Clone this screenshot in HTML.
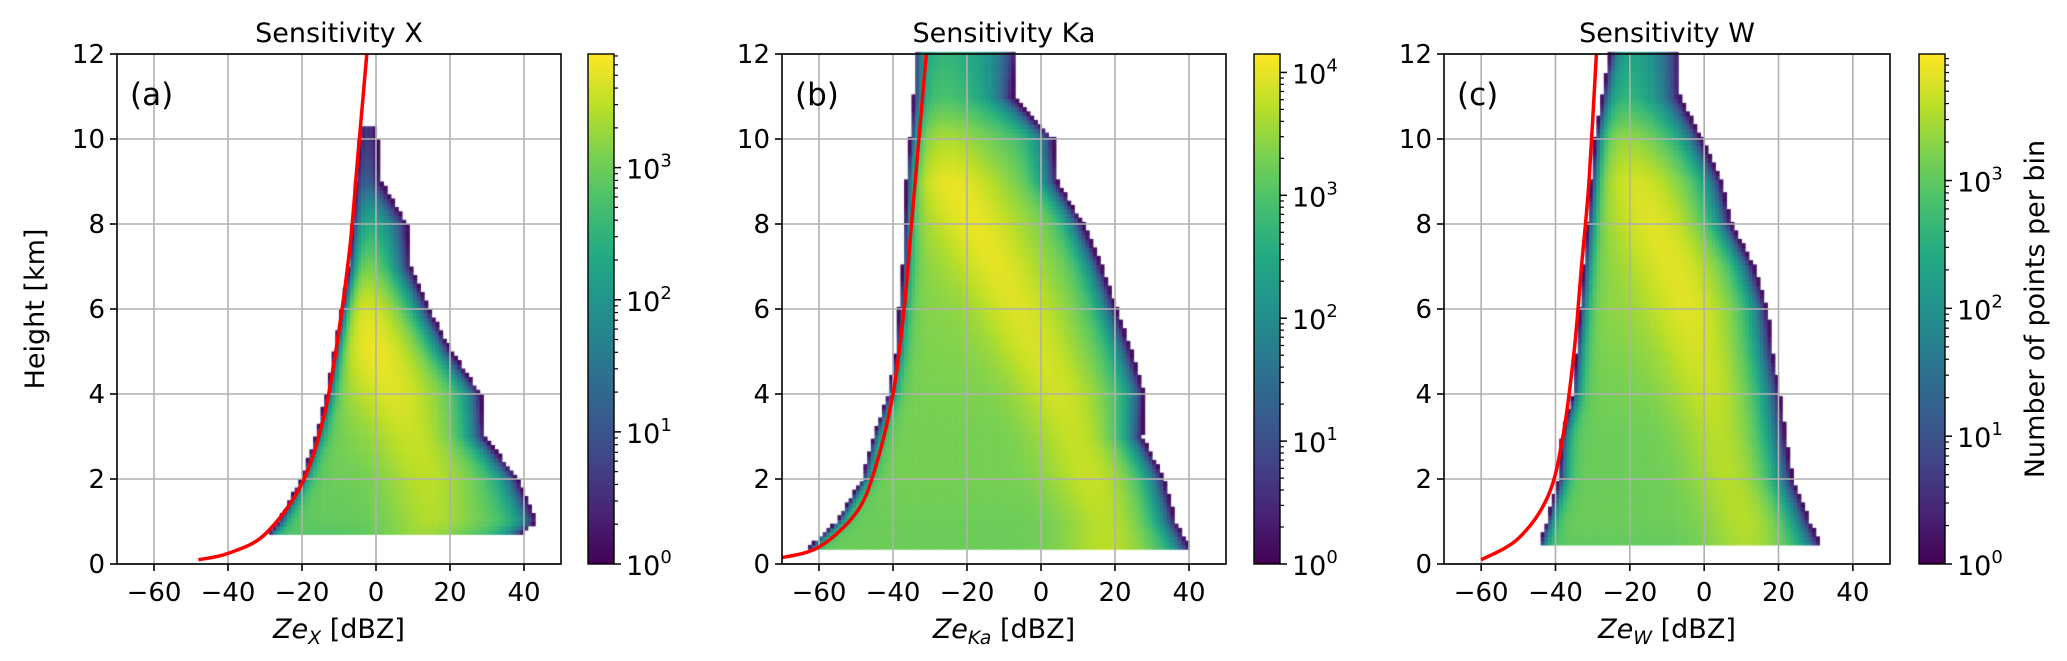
<!DOCTYPE html>
<html><head><meta charset="utf-8">
<style>
html,body{margin:0;padding:0;background:#fff;}
#wrap{position:relative;width:2067px;height:661px;overflow:hidden;font-family:"DejaVu Sans","Liberation Sans",sans-serif;}
canvas{position:absolute;left:0;top:0;}
svg{position:absolute;left:0;top:0;}
</style></head>
<body>
<div id="wrap">
<canvas id="cv" width="2067" height="661"></canvas>
<svg id="sv" width="2067" height="661" xmlns="http://www.w3.org/2000/svg"></svg>
</div>
<script>
// ---- data (heights in km, edges/mode in dBZ) ----
const xHeights = [0.7,1,2,3,4,5,6,7,8,9,10,10.3];
const xLeft    = [-29,-26,-20,-16,-13,-11,-9,-7,-6,-5,-4,-4];
const xRight   = [39,43,38,29,28,20,14,9,8,1,0,0];
const xMode    = [13,15,14,10,5,0,-4,-6,-6,-5,-3,-3];
const xLevel   = [0.85,0.88,0.9,0.92,0.95,0.98,0.97,0.88,0.72,0.58,0.48,0.45];

const kaHeights = [0.35,1,2,3,4,5,6,7,8,9,10,11,12];
const kaLeft    = [-63,-55,-48,-45,-41,-39,-38,-37,-36.5,-36,-35,-34,-34];
const kaRight   = [40,36,33,27,27.5,24,20,16,11,4,3,-8,-7];
const kaMode    = [18,18,14,10,5,-1,-6,-12,-18,-24,-26,-27,-27];
const kaLevel   = [0.9,0.9,0.92,0.92,0.93,0.94,0.95,0.96,0.97,0.97,0.88,0.72,0.66];

const wHeights = [0.45,1,2,3,4,5,6,7,8,9,10,11,12];
const wLeft    = [-44,-42,-38.7,-38,-35,-34,-33,-32,-31,-30,-29,-27,-25];
const wRight   = [31,28,23.5,21.5,20,18,16.6,13,7,4.3,-1,-7,-7];
const wMode    = [12,12,8,5,2,-1,-4,-8,-13,-18,-21,-22,-22];
const wLevel   = [0.88,0.9,0.9,0.9,0.92,0.94,0.96,0.96,0.96,0.94,0.85,0.68,0.62];

// sensitivity curves (dBZ, km)
const xCurveZ = [-48,-40,-30,-20,-14,-10,-7,-5,-3.5,-2.5];
const xCurveH = [0.1,0.25,0.7,1.9,3.5,5.5,7.5,9.5,11,12];
const kaCurveZ = [-70,-60,-50,-45,-40,-37,-35,-33,-31];
const kaCurveH = [0.15,0.4,1.2,2.2,4,6,8,10,12];
const wCurveZ = [-60,-50,-42,-38,-35,-33,-31,-29];
const wCurveH = [0.1,0.6,1.6,3,5,7,9,12];

const xTicks = [-60,-40,-20,0,20,40];
const yTicks = [0,2,4,6,8,10,12];
const cbMaxExp = [3.86,4.15,3.99];
const cbTickExp = [[0,1,2,3],[0,1,2,3,4],[0,1,2,3]];
const titles = ["Sensitivity X","Sensitivity Ka","Sensitivity W"];
const letters = ["(a)","(b)","(c)"];
const subs = ["X","Ka","W"];

const P = [
 {x0:117,x1:561,cb0:588,cb1:614,H:xHeights,L:xLeft,R:xRight,M:xMode,V:xLevel,cz:xCurveZ,ch:xCurveH},
 {x0:782,x1:1226,cb0:1254,cb1:1280,H:kaHeights,L:kaLeft,R:kaRight,M:kaMode,V:kaLevel,cz:kaCurveZ,ch:kaCurveH},
 {x0:1444,x1:1890,cb0:1919,cb1:1945,H:wHeights,L:wLeft,R:wRight,M:wMode,V:wLevel,cz:wCurveZ,ch:wCurveH}
];
const TOP=54, BOT=564;

const vir=[[68,1,84],[72,36,117],[65,68,135],[53,95,141],[42,120,142],[33,145,140],[34,168,132],[68,191,112],[122,209,81],[189,223,38],[253,231,37]];
function viridis(t){t=Math.max(0,Math.min(1,t));const f=t*10,i=Math.min(9,Math.floor(f)),r=f-i;const a=vir[i],b=vir[i+1];
 return `rgb(${Math.round(a[0]+(b[0]-a[0])*r)},${Math.round(a[1]+(b[1]-a[1])*r)},${Math.round(a[2]+(b[2]-a[2])*r)})`;}
function interp(hs,vs,h){if(h<=hs[0])return vs[0];for(let i=1;i<hs.length;i++){if(h<=hs[i]){const r=(h-hs[i-1])/(hs[i]-hs[i-1]);return vs[i-1]+(vs[i]-vs[i-1])*r;}}return vs[vs.length-1];}

const ctx=document.getElementById('cv').getContext('2d');
const svg=document.getElementById('sv');
const NS="http://www.w3.org/2000/svg";
function el(tag,attrs,parent){const e=document.createElementNS(NS,tag);for(const k in attrs)e.setAttribute(k,attrs[k]);(parent||svg).appendChild(e);return e;}
function smoothPath(pts){let d='M'+pts[0][0].toFixed(1)+','+pts[0][1].toFixed(1);
 for(let i=0;i<pts.length-1;i++){const p0=pts[Math.max(0,i-1)],p1=pts[i],p2=pts[i+1],p3=pts[Math.min(pts.length-1,i+2)];
  const c1=[p1[0]+(p2[0]-p0[0])/6,p1[1]+(p2[1]-p0[1])/6],c2=[p2[0]-(p3[0]-p1[0])/6,p2[1]-(p3[1]-p1[1])/6];
  d+=` C${c1[0].toFixed(1)},${c1[1].toFixed(1)} ${c2[0].toFixed(1)},${c2[1].toFixed(1)} ${p2[0].toFixed(1)},${p2[1].toFixed(1)}`;}
 return d;}

P.forEach((p,pi)=>{
 const sx=z=>p.x0+(z+70)/120*(p.x1-p.x0);
 const sy=h=>BOT-h/12*(BOT-TOP);
 const hMin=p.H[0], hMax=p.H[p.H.length-1];
 for(let h=hMin;h<hMax-0.001;h+=0.1){
  const hc=h+0.05;
  const L=interp(p.H,p.L,hc),R=interp(p.H,p.R,hc),M=interp(p.H,p.M,hc),V=interp(p.H,p.V,hc);
  for(let z=Math.floor(L);z<Math.ceil(R);z++){
   const zc=z+0.5;
   const dl=zc-L, dr=R-zc;
   const ramp=(1-Math.exp(-(dl+0.3)/1.6))*(1-Math.exp(-(dr+0.3)/4));
   const core=V*(0.86+0.14*Math.exp(-Math.pow((zc-M)/12,2)));
   const t=Math.max(0.04,ramp*core);
   ctx.fillStyle=viridis(t);
   const X0=sx(z),X1=sx(z+1),Y0=sy(h+0.1),Y1=sy(h);
   ctx.fillRect(X0,Y0,X1-X0+0.6,Y1-Y0+0.6);
  }
 }
 const g=el('g',{});
 
 
 xTicks.forEach(v=>{const l=el('line',{x1:sx(v),x2:sx(v),y1:TOP,y2:BOT,stroke:'#b0b0b0','stroke-width':1.6},g);
  });
 yTicks.forEach(v=>{const l=el('line',{x1:p.x0,x2:p.x1,y1:sy(v),y2:sy(v),stroke:'#b0b0b0','stroke-width':1.6},g);
  });
 const cl=el('path',{d:smoothPath(p.cz.map((z,i)=>[sx(z),sy(p.ch[i])])),fill:'none',stroke:'#ff0000','stroke-width':3.5,'stroke-linejoin':'round'},g);
 
 const fr=el('rect',{x:p.x0,y:TOP,width:p.x1-p.x0,height:BOT-TOP,fill:'none',stroke:'#000','stroke-width':1.6},g);
 
 xTicks.forEach(v=>{el('line',{x1:sx(v),x2:sx(v),y1:BOT,y2:BOT+7,stroke:'#000','stroke-width':1.6},g);
  const t=el('text',{x:sx(v),y:601,'text-anchor':'middle','font-size':26,fill:'#000'},g);
  t.textContent=(v<0?'\u2212'+(-v):''+v);
  });
 yTicks.forEach(v=>{el('line',{x1:p.x0-7,x2:p.x0,y1:sy(v),y2:sy(v),stroke:'#000','stroke-width':1.6},g);
  const t=el('text',{x:p.x0-12,y:sy(v)+9,'text-anchor':'end','font-size':26,fill:'#000'},g);
  t.textContent=v;});
 const ti=el('text',{x:(p.x0+p.x1)/2,y:42,'text-anchor':'middle','font-size':27,fill:'#000'},g);
 ti.textContent=titles[pi];
 const le=el('text',{x:p.x0+13,y:105,'font-size':31,fill:'#000'},g);
 le.textContent=letters[pi];
 const xl=el('text',{x:(p.x0+p.x1)/2,y:638,'text-anchor':'middle','font-size':27,fill:'#000'},g);
 
 const a1=el('tspan',{'font-style':'italic'},xl);a1.textContent='Ze';
 const a2=el('tspan',{'font-style':'italic','font-size':19,dy:6},xl);a2.textContent=subs[pi];
 const a3=el('tspan',{dy:-6},xl);a3.textContent=' [dBZ]';
 const gid='vg'+pi;
 const defs=el('defs',{},g);
 const lg=el('linearGradient',{id:gid,x1:0,y1:1,x2:0,y2:0},defs);
 for(let i=0;i<=10;i++)el('stop',{offset:i/10,'stop-color':viridis(i/10)},lg);
 const cb=el('rect',{x:p.cb0,y:TOP,width:p.cb1-p.cb0,height:BOT-TOP,fill:`url(#${gid})`,stroke:'#000','stroke-width':1.4},g);
 
 const maxE=cbMaxExp[pi];
 const cy=e=>BOT-e/maxE*(BOT-TOP);
 for(let d0=0;d0<Math.ceil(maxE);d0++){for(let m=2;m<=9;m++){const e=d0+Math.log10(m);if(e<maxE)el('line',{x1:p.cb1,x2:p.cb1+4,y1:cy(e),y2:cy(e),stroke:'#000','stroke-width':1.2},g);}}
 cbTickExp[pi].forEach(e=>{el('line',{x1:p.cb1,x2:p.cb1+7,y1:cy(e),y2:cy(e),stroke:'#000','stroke-width':1.5},g);
  const t=el('text',{x:p.cb1+12,y:cy(e)+11,'font-size':27,fill:'#000'},g);
  
  const b=el('tspan',{},t);b.textContent='10';const s=el('tspan',{'font-size':18,dy:-12},t);s.textContent=''+e;});
});
const yt=el('text',{x:0,y:0,transform:'translate(44,309) rotate(-90)','text-anchor':'middle','font-size':27,fill:'#000'});
yt.textContent='Height [km]';
const ct=el('text',{x:0,y:0,transform:'translate(2044,309) rotate(-90)','text-anchor':'middle','font-size':27,fill:'#000'});
ct.textContent='Number of points per bin';
</script>
</body></html>
